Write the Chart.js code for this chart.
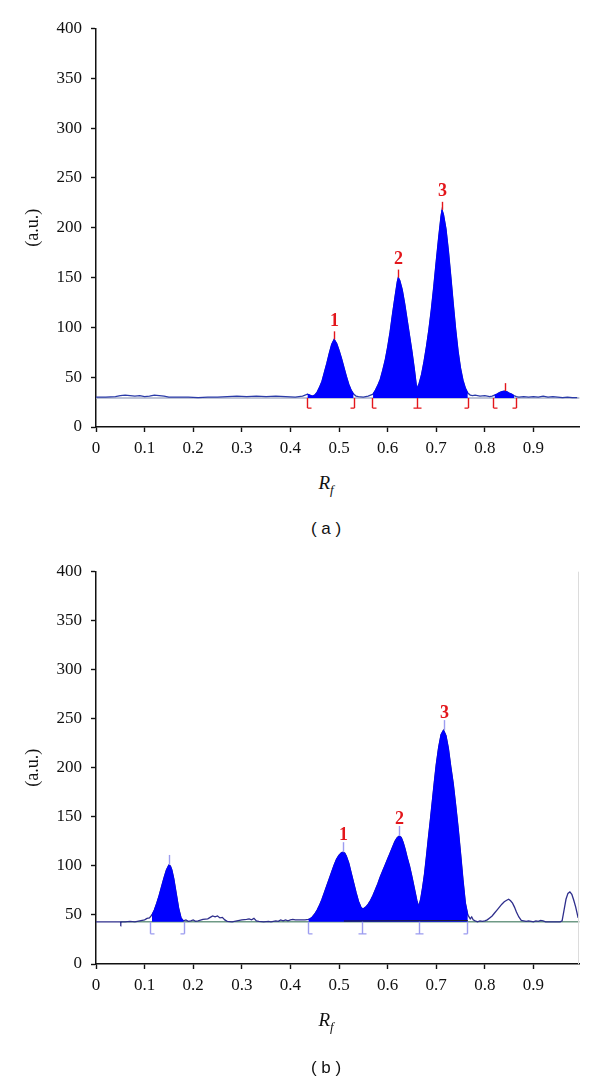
<!DOCTYPE html>
<html>
<head>
<meta charset="utf-8">
<script src="https://cdn.jsdelivr.net/npm/chart.js@4.4.1/dist/chart.umd.min.js"></script>
<style>
  html, body { margin: 0; padding: 0; background: #fff; }
  #wrap { position: relative; width: 600px; height: 1083px; background: #fff; overflow: hidden; }
  canvas { position: absolute; left: 0; }
  .rf { position: absolute; left: 286px; width: 80px; text-align: center; font-family: "Liberation Serif", serif; font-style: italic; font-size: 19px; line-height: 22px; color: #111; }
  .rf sub { font-size: 13px; vertical-align: -5px; }
  .panel { position: absolute; left: 276px; width: 100px; text-align: center; font-family: "Liberation Sans", Arial, sans-serif; font-size: 17px; line-height: 22px; color: #111; }
</style>
</head>
<body>
<div id="wrap">
  <canvas id="cA" width="600" height="470" style="top:0px;width:600px;height:470px"></canvas>
  <canvas id="cB" width="600" height="470" style="top:540px;width:600px;height:470px"></canvas>
  <div class="rf" style="top:472px">R<sub>f</sub></div>
  <div class="panel" style="top:518px">( a )</div>
  <div class="rf" style="top:1009px">R<sub>f</sub></div>
  <div class="panel" style="top:1057px">( b )</div>
</div>
<script>
// ---------------- Tick labels ----------------
const yTicks = [0, 50, 100, 150, 200, 250, 300, 350, 400];
const xTicks = [0, 0.1, 0.2, 0.3, 0.4, 0.5, 0.6, 0.7, 0.8, 0.9];
const xTickLabels = ['0', '0.1', '0.2', '0.3', '0.4', '0.5', '0.6', '0.7', '0.8', '0.9'];

// ---------------- Panel (a) ----------------
const rfA = [0.000,0.020,0.040,0.050,0.060,0.070,0.080,0.090,0.100,0.110,0.120,0.130,0.140,0.150,0.170,0.190,0.210,0.230,0.250,0.270,0.290,0.310,0.330,0.350,0.370,0.390,0.410,0.425,0.435,0.445,
  0.450,0.455,0.460,0.465,0.470,0.475,0.480,0.485,0.490,0.495,0.500,0.505,0.510,0.515,0.520,0.525,0.530,0.535,0.540,0.550,0.560,0.565,
  0.570,0.575,0.580,0.585,0.590,0.595,0.600,0.605,0.610,0.615,0.620,0.622,0.625,0.630,0.635,0.640,0.645,0.650,0.655,0.660,
  0.665,0.670,0.675,0.680,0.685,0.690,0.695,0.700,0.705,0.710,0.712,0.715,0.720,0.725,0.730,0.735,0.740,0.745,0.750,0.755,0.760,0.765,0.770,0.775,0.780,0.790,0.800,0.810,
  0.815,0.820,0.825,0.830,0.835,0.840,0.845,0.850,0.855,0.860,0.865,0.870,0.880,0.890,0.900,0.910,0.920,0.930,0.940,0.950,0.960,0.970,0.980,0.990];
const valA = [30,30,30.5,31.5,32,31.5,31,31.5,30.5,31,32,31.5,31,30,30,30,29.5,30,30,30.5,31,30.5,31,30.5,31,30.5,30,31,33,31,
  32,35,40,46,55,64,74,83,88,84,77,69,60,51,43,37,33,31,30.5,30,31,32,
  33,37,42,48,57,67,80,95,113,130,146,150,147,138,124,108,92,76,58,38,
  44,53,66,81,98,118,141,166,190,212,218,213,199,177,151,124,98,76,59,47,39,34,32,31.5,32,31,31.5,30.5,
  31,32,33,34.5,35.5,36,35.5,34,33,31.5,30.5,30,30.5,30,30.5,30,31,30,30.5,30,29.5,30,29.5,29.5];
const baselineA = 29;
const bracketRfA = [0.435, 0.531, 0.567, 0.660, 0.766, 0.816, 0.864];
const bracketTypeA = ['[', ']', '[', 'T', ']', '[', ']'];
const fillStartA = [0.435, 0.567, 0.816];
const fillEndA = [0.531, 0.766, 0.864];
const peakRfA = [0.490, 0.622, 0.712, 0.842];
const peakTopA = [88, 150, 218, 36];
const peakLabelA = ['1', '2', '3', ''];

// ---------------- Panel (b) ----------------
const rfB = [0.000,0.050,0.051,0.052,0.060,0.070,0.080,0.090,0.100,0.105,0.110,0.115,0.120,0.125,0.130,0.135,0.140,0.145,0.150,0.153,0.156,0.160,0.165,0.170,0.175,0.180,0.185,0.190,0.195,0.200,0.205,0.210,0.220,0.230,0.235,0.240,0.245,0.250,0.255,0.260,0.265,0.270,0.280,0.290,0.300,0.310,0.315,0.320,0.325,0.330,0.335,0.345,0.355,0.360,0.370,0.375,0.380,0.385,0.390,0.395,0.400,0.405,0.410,0.420,0.430,0.437,
  0.440,0.445,0.450,0.455,0.460,0.465,0.470,0.475,0.480,0.485,0.490,0.495,0.500,0.505,0.509,0.512,0.515,0.520,0.525,0.530,0.535,0.540,0.545,0.549,
  0.555,0.560,0.565,0.570,0.575,0.580,0.585,0.590,0.595,0.600,0.605,0.610,0.615,0.620,0.624,0.628,0.632,0.636,0.640,0.645,0.650,0.655,0.660,0.664,
  0.668,0.672,0.676,0.680,0.684,0.688,0.692,0.696,0.700,0.705,0.710,0.715,0.720,0.725,0.730,0.735,0.740,0.745,0.750,0.755,0.760,0.765,0.770,0.773,0.776,0.780,0.785,0.790,0.795,0.800,0.805,0.810,
  0.815,0.820,0.825,0.830,0.835,0.840,0.845,0.849,0.853,0.857,0.861,0.865,0.870,0.875,0.880,0.885,0.890,0.895,0.900,0.905,0.910,0.915,0.920,0.925,0.935,0.945,0.955,0.959,0.963,0.967,0.971,0.975,0.979,0.983,0.987,0.992];
const valB = [43,43,41.5,43,43,43.5,43,44,45,46.5,47,50,55,62,70,79,88,96,101,100,96,87,72,57,47,44,45,43.5,44,45,43.5,44,45.5,46,47.5,49,48,49,47,47.5,45,43.5,43,44,45,45.5,46,45,46.5,44,43.5,43,43.5,43,44,43.5,45,44,45,44,45,45.5,45,45,45,45.5,
  46,48,51,55,60,66,73,80,87,94,101,107,111,113.5,114,113,110,103,93,83,73,64,58,56,
  58,61,65,70,76,82,89,95,101,107,113,119,125,129,130.5,129,124,117,109,100,89,77,65,58.5,
  66,78,92,110,129,147,166,185,203,221,234,238.5,233,220,201,184,162,139,113,86,62,50,46,48,45,44,43,44,43.5,44,45,47,
  49,52,55,58,61,63.5,65,66,64.5,62,58,53,48,44.5,44,43.5,44,43.5,43,44,43.5,44.5,44,43,43,43,43,44,55,66,72,73.5,71,65,58,47];
const baselineB = 43;
const bracketRfB = [0.111, 0.181, 0.437, 0.548, 0.665, 0.763];
const bracketTypeB = ['[', ']', '[', 'T', 'T', ']'];
const fillStartB = [0.111, 0.437];
const fillEndB = [0.181, 0.767];
const integLineRfB = [0.510, 0.765];
const integLineValB = [43.8, 44.3];
const peakRfB = [0.150, 0.509, 0.624, 0.715];
const peakTopB = [101, 114, 130.5, 238.5];
const peakLabelB = ['', '1', '2', '3'];

// ---------------- helpers ----------------
function pts(xs, ys) { return xs.map((x, i) => ({ x: x, y: ys[i] })); }
function windowPts(xs, ys, a, b) {
  const out = [];
  xs.forEach((x, i) => { if (x >= a - 1e-9 && x <= b + 1e-9) out.push({ x: x, y: ys[i] }); });
  return out;
}

function markerPlugin(cfg) {
  return {
    id: 'markers' + cfg.id,
    afterDatasetsDraw(chart) {
      const ctx = chart.ctx, xs = chart.scales.x, ys = chart.scales.y;
      const by = ys.getPixelForValue(cfg.baseline);
      ctx.save();
      ctx.strokeStyle = cfg.bracketColor;
      ctx.lineWidth = 1.4;
      cfg.bracketRf.forEach((r, i) => {
        const px = Math.round(xs.getPixelForValue(r)) + 0.5;
        const bottom = by + cfg.bracketLen;
        ctx.beginPath();
        ctx.moveTo(px, by);
        ctx.lineTo(px, bottom);
        const t = cfg.bracketType[i];
        if (t === '[') { ctx.moveTo(px, bottom); ctx.lineTo(px + 4, bottom); }
        else if (t === ']') { ctx.moveTo(px, bottom); ctx.lineTo(px - 4, bottom); }
        else { ctx.moveTo(px - 4, bottom); ctx.lineTo(px + 4, bottom); }
        ctx.stroke();
      });
      cfg.peakRf.forEach((r, i) => {
        const px = Math.round(xs.getPixelForValue(r)) + 0.5;
        const py = ys.getPixelForValue(cfg.peakTop[i]);
        ctx.strokeStyle = cfg.tickColor;
        ctx.lineWidth = 1.4;
        ctx.beginPath();
        ctx.moveTo(px, py);
        ctx.lineTo(px, py - cfg.tickLen);
        ctx.stroke();
        if (cfg.peakLabel[i]) {
          ctx.fillStyle = '#e3161b';
          ctx.font = 'bold 18px "Liberation Serif", serif';
          ctx.textAlign = 'center';
          ctx.textBaseline = 'middle';
          ctx.fillText(cfg.peakLabel[i], px, py - cfg.labelOff);
        }
      });
      if (cfg.rightBorder) {
        ctx.strokeStyle = '#dcdcdc';
        ctx.lineWidth = 1;
        const rx = Math.round(chart.chartArea.right) - 1.5;
        ctx.beginPath();
        ctx.moveTo(rx, chart.chartArea.top);
        ctx.lineTo(rx, chart.chartArea.bottom);
        ctx.stroke();
      }
      ctx.restore();
    }
  };
}

function makeChart(canvasId, o) {
  const datasets = [];
  datasets.push({ data: [{ x: o.baseFrom, y: o.baseline }, { x: o.baseTo, y: o.baseline }], borderColor: o.baseColor, borderWidth: 1.5, pointRadius: 0, fill: false, order: 5 });
  datasets.push({ data: pts(o.rf, o.val), borderColor: o.lineColor, borderWidth: 1.3, pointRadius: 0, fill: false, tension: 0, order: 4 });
  o.fillStart.forEach((s, i) => {
    datasets.push({ data: windowPts(o.rf, o.val, s, o.fillEnd[i]), borderColor: '#0000ff', borderWidth: 1, backgroundColor: '#0000ff', pointRadius: 0, fill: { value: o.baseline }, tension: 0, order: 3 });
  });
  if (o.integRf) {
    datasets.push({ data: pts(o.integRf, o.integVal), borderColor: '#222', borderWidth: 1, pointRadius: 0, fill: false, order: 2 });
  }
  return new Chart(document.getElementById(canvasId), {
    type: 'line',
    data: { datasets: datasets },
    options: {
      responsive: false,
      animation: false,
      events: [],
      layout: { padding: { top: o.padTop, right: 20.4, left: 0, bottom: 0 } },
      plugins: { legend: { display: false }, tooltip: { enabled: false }, title: { display: false } },
      scales: {
        x: {
          type: 'linear', min: 0, max: 0.995,
          afterFit(scale) { scale.height = o.xAxisH; },
          afterBuildTicks(scale) { scale.ticks = xTicks.map(v => ({ value: v })); },
          ticks: {
            callback: (v) => { const k = xTicks.findIndex(t => Math.abs(t - v) < 1e-6); return k >= 0 ? xTickLabels[k] : ''; },
            color: '#111', padding: 6, maxRotation: 0, autoSkip: false,
            font: { family: '"Liberation Serif", serif', size: 17 }
          },
          grid: { display: true, drawOnChartArea: false, drawTicks: true, tickLength: 5, tickColor: '#111', tickWidth: 1.4 },
          border: { display: true, color: '#111', width: 1.5 }
        },
        y: {
          type: 'linear', min: 0, max: 400,
          afterFit(scale) { scale.width = 96; },
          afterBuildTicks(scale) { scale.ticks = yTicks.map(v => ({ value: v })); },
          ticks: {
            color: '#111', padding: 9,
            font: { family: '"Liberation Serif", serif', size: 17 }
          },
          grid: { display: true, drawOnChartArea: false, drawTicks: true, tickLength: 5, tickColor: '#111', tickWidth: 1.4 },
          border: { display: true, color: '#111', width: 1.5 },
          title: { display: true, text: '(a.u.)', color: '#111', padding: { top: 22, bottom: 0 }, font: { family: '"Liberation Serif", serif', size: 18 } }
        }
      }
    },
    plugins: [markerPlugin(o.marker)]
  });
}

makeChart('cA', {
  rf: rfA, val: valA, baseline: baselineA, baseFrom: 0, baseTo: 0.995, baseColor: '#a9b0c8', lineColor: '#2b3ba8',
  fillStart: fillStartA, fillEnd: fillEndA, padTop: 28.5, xAxisH: 43,
  marker: { id: 'A', baseline: baselineA, bracketRf: bracketRfA, bracketType: bracketTypeA, bracketColor: '#e3161b', bracketLen: 10,
    peakRf: peakRfA, peakTop: peakTopA, peakLabel: peakLabelA, tickColor: '#e3161b', tickLen: 8, labelOff: 18, rightBorder: false }
});

makeChart('cB', {
  rf: rfB, val: valB, baseline: baselineB, baseFrom: 0.05, baseTo: 0.995, baseColor: '#6f9a86', lineColor: '#2e2e8c',
  fillStart: fillStartB, fillEnd: fillEndB, padTop: 31.7, xAxisH: 46,
  integRf: integLineRfB, integVal: integLineValB,
  marker: { id: 'B', baseline: baselineB, bracketRf: bracketRfB, bracketType: bracketTypeB, bracketColor: '#9c9cf0', bracketLen: 12,
    peakRf: peakRfB, peakTop: peakTopB, peakLabel: peakLabelB, tickColor: '#9c9cf0', tickLen: 10, labelOff: 17, rightBorder: true }
});
</script>
</body>
</html>
